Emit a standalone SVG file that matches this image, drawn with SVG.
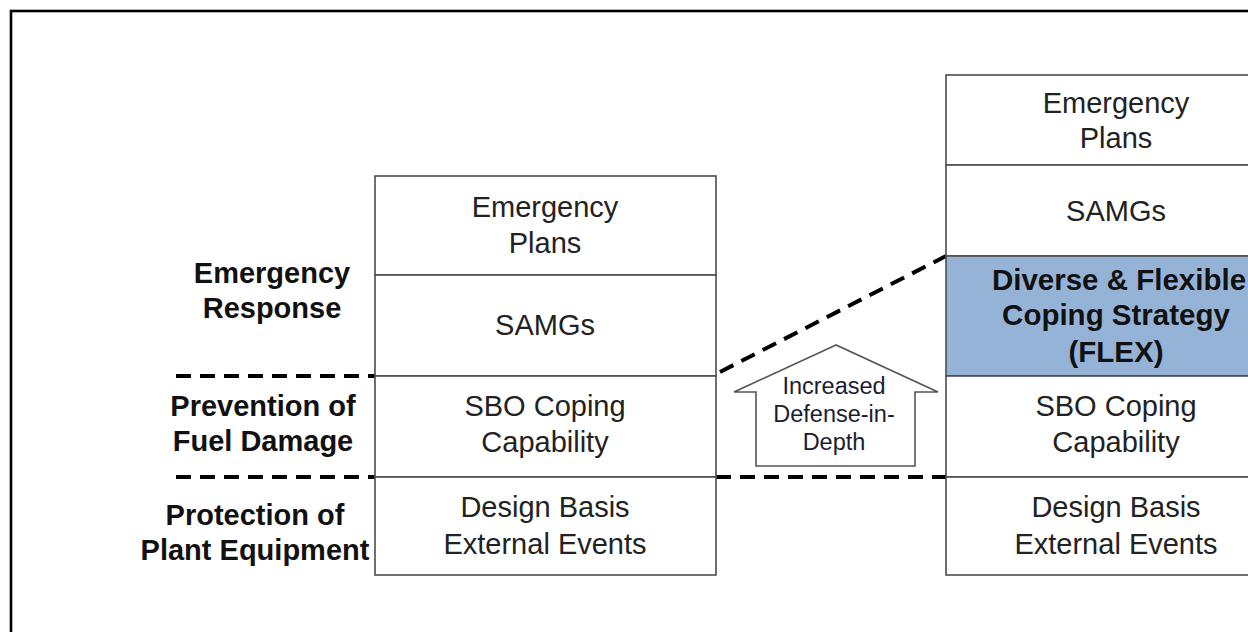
<svg xmlns="http://www.w3.org/2000/svg" width="1248" height="632" viewBox="0 0 1248 632">
<style>
.box{fill:#fff;stroke:#4d4d4d;stroke-width:1.6}
.flex{fill:#95b3d7;stroke:#4d4d4d;stroke-width:1.6}
.t{font-family:"Liberation Sans",Arial,sans-serif;font-size:29px;fill:#222;text-anchor:middle}
.b{font-family:"Liberation Sans",Arial,sans-serif;font-size:29px;font-weight:bold;fill:#111;text-anchor:middle}
.bf{font-family:"Liberation Sans",Arial,sans-serif;font-size:29.5px;font-weight:bold;fill:#111;text-anchor:middle}
.a{font-family:"Liberation Sans",Arial,sans-serif;font-size:23.5px;fill:#1c1c30;text-anchor:middle}
.dash{stroke:#000;stroke-width:4;stroke-dasharray:15 9;fill:none}
</style>
<rect x="0" y="0" width="1248" height="632" fill="#fff"/>
<rect x="11" y="11" width="1300" height="700" fill="none" stroke="#000" stroke-width="2.6"/>

<g id="labels">
<text class="b" x="272" y="283">Emergency</text>
<text class="b" x="272" y="318">Response</text>
<text class="b" x="263" y="416">Prevention of</text>
<text class="b" x="263" y="451">Fuel Damage</text>
<text class="b" x="255" y="525">Protection of</text>
<text class="b" x="255" y="560">Plant Equipment</text>
</g>

<g id="connectors">
<line class="dash" x1="176" y1="376" x2="375" y2="376"/>
<line class="dash" x1="176" y1="477" x2="375" y2="477"/>
<line class="dash" x1="716" y1="477" x2="946" y2="477"/>
<line class="dash" x1="720" y1="372" x2="946" y2="256"/>
</g>

<g id="left-emergency-plans">
<rect class="box" x="375" y="176" width="341" height="99"/>
<text class="t" x="545" y="217">Emergency</text>
<text class="t" x="545" y="253">Plans</text>
</g>
<g id="left-samgs">
<rect class="box" x="375" y="275" width="341" height="101"/>
<text class="t" x="545" y="335">SAMGs</text>
</g>
<g id="left-sbo">
<rect class="box" x="375" y="376" width="341" height="101"/>
<text class="t" x="545" y="416">SBO Coping</text>
<text class="t" x="545" y="452">Capability</text>
</g>
<g id="left-design">
<rect class="box" x="375" y="477" width="341" height="98"/>
<text class="t" x="545" y="517">Design Basis</text>
<text class="t" x="545" y="554">External Events</text>
</g>

<g id="arrow">
<polygon points="836,345 734,392 756,392 756,466 915,466 915,392 938,392" fill="#fff" stroke="#555" stroke-width="1.6"/>
<text class="a" x="834" y="394">Increased</text>
<text class="a" x="834" y="422">Defense-in-</text>
<text class="a" x="834" y="450">Depth</text>
</g>

<g id="right-emergency-plans">
<rect class="box" x="946" y="75" width="341" height="90"/>
<text class="t" x="1116" y="113">Emergency</text>
<text class="t" x="1116" y="148">Plans</text>
</g>
<g id="right-samgs">
<rect class="box" x="946" y="165" width="341" height="91"/>
<text class="t" x="1116" y="221">SAMGs</text>
</g>
<g id="right-flex">
<rect class="flex" x="946" y="256" width="341" height="120"/>
<text class="bf" x="1119" y="290">Diverse &amp; Flexible</text>
<text class="bf" x="1116" y="325">Coping Strategy</text>
<text class="bf" x="1116" y="362">(FLEX)</text>
</g>
<g id="right-sbo">
<rect class="box" x="946" y="376" width="341" height="101"/>
<text class="t" x="1116" y="416">SBO Coping</text>
<text class="t" x="1116" y="452">Capability</text>
</g>
<g id="right-design">
<rect class="box" x="946" y="477" width="341" height="98"/>
<text class="t" x="1116" y="517">Design Basis</text>
<text class="t" x="1116" y="554">External Events</text>
</g>
</svg>
